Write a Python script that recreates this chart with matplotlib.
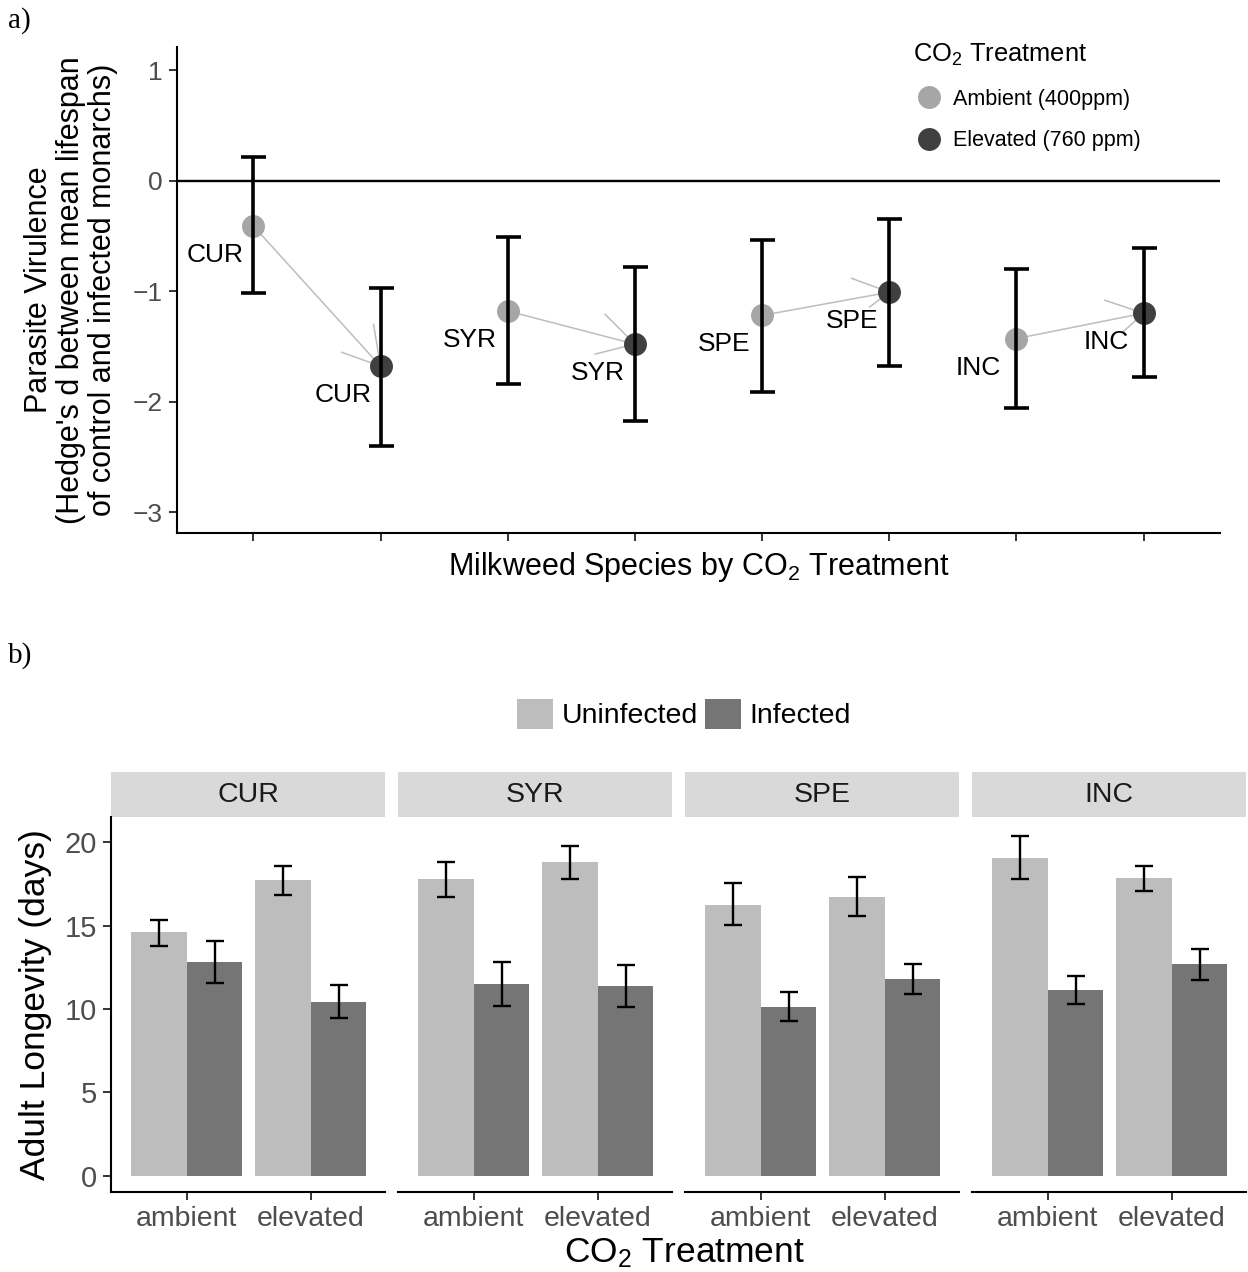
import matplotlib
matplotlib.use("Agg")
import matplotlib.pyplot as plt
import numpy as np
from matplotlib.lines import Line2D
from matplotlib.patches import Patch, Rectangle

plt.rcParams['font.family'] = ['Liberation Sans', 'DejaVu Sans']
plt.rcParams['mathtext.fontset'] = 'custom'
plt.rcParams['mathtext.rm'] = 'Liberation Sans'
plt.rcParams['mathtext.it'] = 'Liberation Sans:italic'

# ---- data ----
species = ["CUR", "SYR", "SPE", "INC"]
co2_levels = ["ambient", "elevated"]

# a) Hedge's d (virulence) with CI
vir_ambient = [-0.41, -1.18, -1.22, -1.43]
vir_ambient_lo = [-1.02, -1.84, -1.91, -2.06]
vir_ambient_hi = [0.21, -0.51, -0.54, -0.80]
vir_elevated = [-1.68, -1.48, -1.01, -1.20]
vir_elevated_lo = [-2.40, -2.18, -1.68, -1.78]
vir_elevated_hi = [-0.97, -0.78, -0.35, -0.61]

# b) adult longevity (days), mean with error range
uninf_ambient = [14.6, 17.8, 16.25, 19.05]
uninf_ambient_lo = [13.8, 16.73, 15.03, 17.77]
uninf_ambient_hi = [15.34, 18.78, 17.53, 20.36]
uninf_elevated = [17.7, 18.78, 16.73, 17.82]
uninf_elevated_lo = [16.8, 17.8, 15.6, 17.07]
uninf_elevated_hi = [18.58, 19.74, 17.91, 18.58]
inf_ambient = [12.82, 11.5, 10.13, 11.14]
inf_ambient_lo = [11.57, 10.16, 9.29, 10.28]
inf_ambient_hi = [14.05, 12.8, 11.02, 11.96]
inf_elevated = [10.42, 11.38, 11.79, 12.7]
inf_elevated_lo = [9.44, 10.13, 10.9, 11.72]
inf_elevated_hi = [11.43, 12.63, 12.7, 13.61]

W, H = 1248, 1272
fig = plt.figure(figsize=(W / 100, H / 100), dpi=100)

AMB_COL = '#A6A6A6'
ELEV_COL = '#404040'
LEADER = '#BDBDBD'
TICK_COL = '#4D4D4D'

# ================= panel a =================
ax = fig.add_axes([177 / W, 1 - 533 / H, 1043 / W, 486 / H])
xa = np.arange(len(species)) * 2 + 1.0
xe = xa + 1.0

ax.axhline(0, color='black', lw=1.7, zorder=1)

for i in range(len(species)):
    ax.plot([xa[i], xe[i]], [vir_ambient[i], vir_elevated[i]],
            color=LEADER, lw=1.1, zorder=2)

ax.plot(xa, vir_ambient, 'o', ms=15.5, color=AMB_COL, zorder=3)
ax.plot(xe, vir_elevated, 'o', ms=15.5, color=ELEV_COL, zorder=3)

va = np.array(vir_ambient)
ve = np.array(vir_elevated)
ax.errorbar(xa, va, yerr=[va - np.array(vir_ambient_lo), np.array(vir_ambient_hi) - va],
            fmt='none', ecolor='black', elinewidth=2.6, capsize=9, capthick=2.6, zorder=4)
ax.errorbar(xe, ve, yerr=[ve - np.array(vir_elevated_lo), np.array(vir_elevated_hi) - ve],
            fmt='none', ecolor='black', elinewidth=2.6, capsize=9, capthick=2.6, zorder=4)

# repel leader stubs around the elevated points (pixel offsets)
stubs = [[(-39, 14), (-7, 42)], [(-30, 30), (-40, -10)],
         [(-38, 14), (-20, -15)], [(-39, 13), (-21, -19)]]
for i in range(len(species)):
    for dx, dy in stubs[i]:
        ax.annotate('', xy=(xe[i], ve[i]), xytext=(dx, dy), textcoords='offset pixels',
                    arrowprops=dict(arrowstyle='-', color=LEADER, lw=1.1,
                                    shrinkA=0, shrinkB=0), zorder=2)

for i, sp in enumerate(species):
    ax.annotate(sp, xy=(xa[i], va[i]), xytext=(-38, -29), textcoords='offset pixels',
                ha='center', va='center', fontsize=19, zorder=5)
    ax.annotate(sp, xy=(xe[i], ve[i]), xytext=(-37, -29), textcoords='offset pixels',
                ha='center', va='center', fontsize=19, zorder=5)

ax.set_xlim(0.4, 8.6)
ax.set_ylim(-3.19, 1.21)
ax.set_yticks([-3, -2, -1, 0, 1])
ax.set_xticks(np.concatenate([xa, xe]))
ax.set_xticklabels([])
ax.tick_params(axis='y', labelsize=19, labelcolor=TICK_COL, length=6, width=1.4,
               color='#333333', pad=4)
ax.tick_params(axis='x', length=6, width=1.4, color='#333333')
for s in ['top', 'right']:
    ax.spines[s].set_visible(False)
for s in ['left', 'bottom']:
    ax.spines[s].set_linewidth(1.5)

leg_a = ax.legend(handles=[Line2D([], [], marker='o', ls='', color=AMB_COL, ms=15.5),
                           Line2D([], [], marker='o', ls='', color=ELEV_COL, ms=15.5)],
                  labels=['Ambient (400ppm)', 'Elevated (760 ppm)'],
                  title='CO$_2$ Treatment', title_fontsize=18.4, fontsize=15.5,
                  loc='upper left', bbox_to_anchor=(913 / W, 1 - 42 / H),
                  bbox_transform=fig.transFigure, frameon=False, alignment='left',
                  borderpad=0, borderaxespad=0, handlelength=1.5, handletextpad=0.37,
                  labelspacing=0.95)

fig.text(698.5 / W, 1 - 567 / H, 'Milkweed Species by CO$_2$ Treatment',
         ha='center', va='center', fontsize=22)
fig.text(71 / W, 1 - 290 / H,
         "Parasite Virulence\n(Hedge's d between mean lifespan\nof control and infected monarchs)",
         ha='center', va='center', rotation=90, fontsize=22, linespacing=1.07,
         multialignment='center')

fig.text(8 / W, 1 - 21 / H, 'a)', family='Liberation Serif', fontsize=21,
         ha='left', va='center')
fig.text(8 / W, 1 - 656 / H, 'b)', family='Liberation Serif', fontsize=21,
         ha='left', va='center')

# ================= panel b =================
UNINF_COL = '#BDBDBD'
INF_COL = '#757575'
lefts = [111, 398, 685, 972]
xb = np.arange(1, len(co2_levels) + 1)
bw = 0.45

uninf = np.array([uninf_ambient, uninf_elevated]).T
uninf_lo = np.array([uninf_ambient_lo, uninf_elevated_lo]).T
uninf_hi = np.array([uninf_ambient_hi, uninf_elevated_hi]).T
inf = np.array([inf_ambient, inf_elevated]).T
inf_lo = np.array([inf_ambient_lo, inf_elevated_lo]).T
inf_hi = np.array([inf_ambient_hi, inf_elevated_hi]).T

for i, sp in enumerate(species):
    axb = fig.add_axes([lefts[i] / W, 1 - 1192 / H, 274 / W, 375 / H])
    axb.bar(xb - bw / 2, uninf[i], width=bw, color=UNINF_COL, zorder=2)
    axb.bar(xb + bw / 2, inf[i], width=bw, color=INF_COL, zorder=2)
    axb.errorbar(xb - bw / 2, uninf[i], yerr=[uninf[i] - uninf_lo[i], uninf_hi[i] - uninf[i]],
                 fmt='none', ecolor='black', elinewidth=1.7, capsize=6.5, capthick=1.7, zorder=3)
    axb.errorbar(xb + bw / 2, inf[i], yerr=[inf[i] - inf_lo[i], inf_hi[i] - inf[i]],
                 fmt='none', ecolor='black', elinewidth=1.7, capsize=6.5, capthick=1.7, zorder=3)
    axb.set_xlim(0.39, 2.6)
    axb.set_ylim(-0.96, 21.5)
    axb.set_xticks(xb)
    axb.set_xticklabels(co2_levels)
    axb.set_yticks([0, 5, 10, 15, 20])
    axb.tick_params(axis='x', labelsize=20.5, labelcolor=TICK_COL, length=6, width=1.4,
                    color='#333333', pad=4)
    axb.tick_params(axis='y', labelsize=21, labelcolor=TICK_COL, length=6, width=1.4,
                    color='#333333', pad=4)
    for s in ['top', 'right']:
        axb.spines[s].set_visible(False)
    axb.spines['bottom'].set_linewidth(1.5)
    if i == 0:
        axb.spines['left'].set_linewidth(1.5)
    else:
        axb.spines['left'].set_visible(False)
        axb.tick_params(axis='y', left=False, labelleft=False)
    strip_h = 45 / 375
    axb.add_patch(Rectangle((0, 1.0), 1, strip_h, transform=axb.transAxes,
                            facecolor='#D9D9D9', edgecolor='none', clip_on=False))
    axb.text(0.5, 1.0 + strip_h / 2, sp, transform=axb.transAxes, ha='center',
             va='center', fontsize=20.5, color='#1A1A1A')

fig.legend(handles=[Patch(facecolor=UNINF_COL), Patch(facecolor=INF_COL)],
           labels=['Uninfected', 'Infected'], ncol=2, loc='center',
           bbox_to_anchor=(684 / W, 1 - 714 / H), frameon=False, fontsize=20.5,
           handlelength=1.25, handleheight=1.25, handletextpad=0.3, columnspacing=0.25,
           borderpad=0)

fig.text(684 / W, 1 - 1253 / H, 'CO$_2$ Treatment', ha='center', va='center', fontsize=25.5)
fig.text(36 / W, 1 - 1005 / H, 'Adult Longevity (days)', ha='center', va='center',
         rotation=90, fontsize=25.5)

fig.savefig('out.png', dpi=100)
